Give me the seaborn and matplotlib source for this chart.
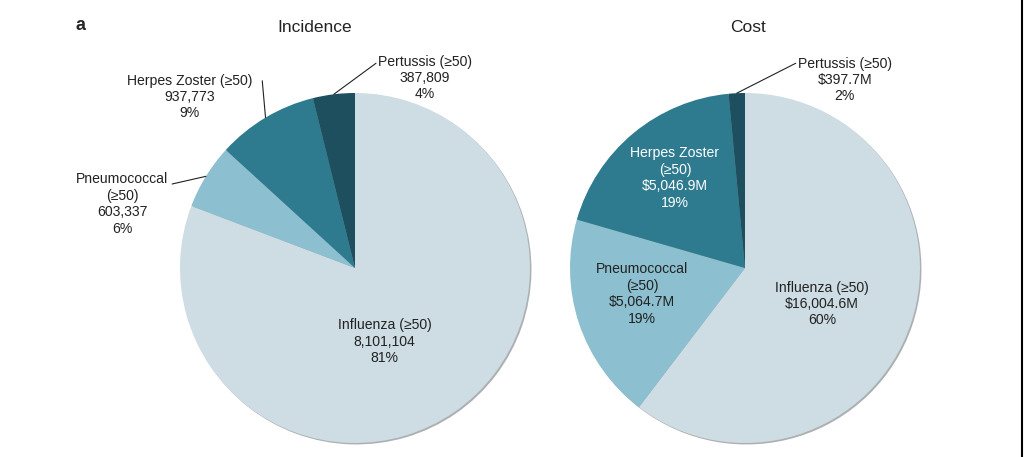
import matplotlib
matplotlib.use("Agg")
import matplotlib.pyplot as plt
import seaborn as sns
import numpy as np

# data
diseases = ["Influenza", "Pneumococcal", "Herpes Zoster", "Pertussis"]
incidence = [8101104, 603337, 937773, 387809]
incidence_pct = ["81%", "6%", "9%", "4%"]
cost = [16004.6, 5064.7, 5046.9, 397.7]
cost_pct = ["60%", "19%", "19%", "2%"]

colors = ["#cddde3", "#8cbfcf", "#2e7b8f", "#1e4f5e"]

sns.set_theme(style="white")
plt.rcParams["font.family"] = ["Liberation Sans", "DejaVu Sans"]

fig = plt.figure(figsize=(10.24, 4.57), dpi=100)

R_PX = 175  # pie radius in pixels
side = 2.5 * R_PX


def pie_axes(cx, cy):
    # cx, cy: pie centre in pixels (y from top)
    return fig.add_axes([(cx - side / 2) / 1024, (457 - cy - side / 2) / 457,
                         side / 1024, side / 457])


def draw_pie(ax, values):
    wedges, _ = ax.pie(values, colors=colors, startangle=90, counterclock=False,
                       wedgeprops=dict(linewidth=0),
                       shadow=dict(ox=0.006, oy=-0.006, shade=0.55))
    ax.set_xlim(-1.25, 1.25)
    ax.set_ylim(-1.25, 1.25)
    ax.set_aspect("equal")
    ax.axis("off")
    return wedges


def edge_point(w):
    mid = np.deg2rad((w.theta1 + w.theta2) / 2)
    return np.cos(mid), np.sin(mid)


fs = 10.1
lbl = dict(ha="center", va="center", fontsize=fs, color="#222222", linespacing=1.22)
arrow = dict(arrowstyle="-", color="#222222", lw=0.8, shrinkA=0, shrinkB=0)

# ---- Incidence
ax1 = pie_axes(355, 268)
w1 = draw_pie(ax1, incidence)
inc_txt = [f"{v:,}" for v in incidence]

ax1.text(0.17, -0.42, f"Influenza (\u226550)\n{inc_txt[0]}\n{incidence_pct[0]}", **lbl)

ax1.annotate("", xy=edge_point(w1[1]), xytext=(-1.045, 0.48), arrowprops=arrow)
ax1.text(-1.33, 0.366, f"Pneumococcal\n(\u226550)\n{inc_txt[1]}\n{incidence_pct[1]}", **lbl)

ax1.annotate("", xy=edge_point(w1[2]), xytext=(-0.53, 1.07), arrowprops=arrow)
ax1.text(-0.943, 0.977, f"Herpes Zoster (\u226550)\n{inc_txt[2]}\n{incidence_pct[2]}", **lbl)

ax1.annotate("", xy=edge_point(w1[3]), xytext=(0.12, 1.17), arrowprops=arrow)
ax1.text(0.40, 1.086, f"Pertussis (\u226550)\n{inc_txt[3]}\n{incidence_pct[3]}", **lbl)

# ---- Cost
ax2 = pie_axes(745, 268)
w2 = draw_pie(ax2, cost)
cost_txt = [f"${v:,.1f}M" for v in cost]

ax2.text(0.44, -0.206, f"Influenza (\u226550)\n{cost_txt[0]}\n{cost_pct[0]}", **lbl)
ax2.text(-0.589, -0.149, f"Pneumococcal\n(\u226550)\n{cost_txt[1]}\n{cost_pct[1]}", **lbl)
ax2.text(-0.40, 0.514, f"Herpes Zoster\n(\u226550)\n{cost_txt[2]}\n{cost_pct[2]}",
         **{**lbl, "color": "white"})
ax2.annotate("", xy=edge_point(w2[3]), xytext=(0.29, 1.17), arrowprops=arrow)
ax2.text(0.571, 1.074, f"Pertussis (\u226550)\n{cost_txt[3]}\n{cost_pct[3]}", **lbl)

# titles
fig.text(315 / 1024, 1 - 27 / 457, "Incidence", ha="center", va="center", fontsize=12.5, color="#222222")
fig.text(748 / 1024, 1 - 27 / 457, "Cost", ha="center", va="center", fontsize=12.5, color="#222222")
fig.text(80 / 1024, 1 - 25 / 457, "a", ha="center", va="center", fontsize=13, fontweight="bold")

# right border seen in the scan
fig.add_artist(plt.Line2D([0.9985, 0.9985], [0, 1], color="black", lw=1.5,
                          transform=fig.transFigure))

fig.savefig("out.png", dpi=100, facecolor="white")
